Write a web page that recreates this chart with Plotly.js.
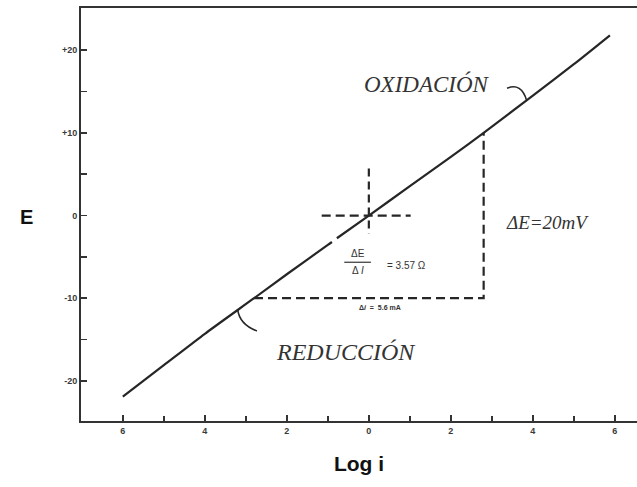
<!DOCTYPE html>
<html>
<head>
<meta charset="utf-8">
<script src="https://cdn.plot.ly/plotly-3.0.1.min.js"></script>
<style>
  html, body { margin: 0; padding: 0; background: #fff; }
  #chart { width: 637px; height: 487px; }
</style>
</head>
<body>
<div id="chart"></div>
<script>
// Polarisation curve: potential E (mV) against log i
const logI = [-6, -5, -4, -2.8, -2, -1, -0.9, null, -0.78, 0, 1, 2, 2.8, 4, 5, 5.88];
const potE = [-21.9, -18.1, -14.3, -10, -7.1, -3.55, -3.2, null, -2.75, 0, 3.55, 7.1, 10, 14.5, 18.3, 21.8];

// Construction for the slope: Δi = 5.6 mA, ΔE = 20 mV
const deltaI = 5.6;
const deltaE = 20;
const stepX = [-deltaI / 2, deltaI / 2, deltaI / 2];
const stepY = [-deltaE / 2, -deltaE / 2, deltaE / 2];

// Crosshair at the equilibrium point
const crossHX = [-1.15, 1.02];
const crossHY = [0, 0];
const crossVX = [0, 0];
const crossVY = [5.7, -2.2];

// Axis ticks
const xTickVals = [-6, -4, -2, 0, 2, 4, 6];
const xTickText = ['6', '4', '2', '0', '2', '4', '6'];
const yTickVals = [20, 10, 0, -10, -20];
const yTickText = ['+20', '+10', '0', '-10', '-20'];

const ink = '#262626';
const dashed = { color: ink, width: 2.2, dash: '9px,5px' };

const traces = [
  { x: logI, y: potE, mode: 'lines', line: { color: ink, width: 2.2, shape: 'spline', smoothing: 0.6 }, connectgaps: false, hoverinfo: 'skip' },
  { x: stepX, y: stepY, mode: 'lines', line: dashed, hoverinfo: 'skip' },
  { x: crossHX, y: crossHY, mode: 'lines', line: dashed, hoverinfo: 'skip' },
  { x: crossVX, y: crossVY, mode: 'lines', line: { color: ink, width: 2.2, dash: '8px,5px' }, hoverinfo: 'skip' }
];

const serifItalic = { family: 'Liberation Serif, Times New Roman, serif', style: 'italic', color: '#333' };
const smallSans = { family: 'Liberation Sans, Arial, sans-serif', color: '#333' };
const tickFont = { family: 'Liberation Sans, Arial, sans-serif', size: 9, color: '#3a3a3a', weight: 'bold' };

const layout = {
  width: 637,
  height: 487,
  margin: { l: 81, r: 0, t: 8, b: 66 },
  paper_bgcolor: '#fff',
  plot_bgcolor: '#fff',
  showlegend: false,
  xaxis: {
    range: [-7.02, 6.54],
    showgrid: false, zeroline: false,
    showline: true, mirror: true, linecolor: '#333', linewidth: 2,
    tickmode: 'array', tickvals: xTickVals, ticktext: xTickText,
    ticks: 'inside', ticklen: 6, tickwidth: 1.5, tickcolor: '#333',
    minor: { dtick: 1, tick0: 0, ticks: 'inside', ticklen: 5, tickwidth: 1.5, tickcolor: '#333' },
    tickfont: tickFont,
    title: { text: 'Log i', font: { family: 'Liberation Sans, Arial, sans-serif', size: 21, color: '#111', weight: 'bold' }, standoff: 22 }
  },
  yaxis: {
    range: [-24.85, 25.1],
    showgrid: false, zeroline: false,
    showline: true, mirror: false, linecolor: '#333', linewidth: 2,
    tickmode: 'array', tickvals: yTickVals, ticktext: yTickText,
    ticks: 'inside', ticklen: 6, tickwidth: 1.5, tickcolor: '#333',
    minor: { tickvals: [15, 5, -5, -15], ticks: 'inside', ticklen: 6, tickwidth: 1.5, tickcolor: '#333' },
    tickfont: tickFont
  },
  annotations: [
    { xref: 'paper', yref: 'y', x: -0.113, y: -0.2, text: 'E', showarrow: false,
      font: { family: 'Liberation Sans, Arial, sans-serif', size: 20, color: '#111', weight: 'bold' } },
    { xref: 'x', yref: 'y', x: 1.41, y: 15.9, text: 'OXIDACIÓN', showarrow: false,
      font: Object.assign({ size: 23 }, serifItalic) },
    { xref: 'x', yref: 'y', x: -0.56, y: -16.5, text: 'REDUCCIÓN', showarrow: false,
      font: Object.assign({ size: 24 }, serifItalic) },
    { xref: 'x', yref: 'y', x: 3.3, y: -0.8, xanchor: 'left', text: 'ΔE=20mV', showarrow: false,
      font: Object.assign({ size: 19 }, serifItalic) },
    { xref: 'x', yref: 'y', x: -0.27, y: -4.6, text: 'ΔE', showarrow: false,
      font: Object.assign({ size: 10 }, smallSans) },
    { xref: 'x', yref: 'y', x: -0.27, y: -6.6, text: 'Δ <i>I</i>', showarrow: false,
      font: Object.assign({ size: 10 }, smallSans) },
    { xref: 'x', yref: 'y', x: 0.4, y: -6.1, xanchor: 'left', text: '= 3.57 Ω', showarrow: false,
      font: Object.assign({ size: 10 }, smallSans) },
    { xref: 'x', yref: 'y', x: 0.27, y: -11.1, text: 'Δ<i>i</i>  =  5.6 mA', showarrow: false,
      font: Object.assign({ size: 7, weight: 'bold' }, smallSans) }
  ],
  shapes: [
    // fraction bar
    { type: 'line', xref: 'x', yref: 'y', x0: -0.6, x1: 0.05, y0: -5.65, y1: -5.65, line: { color: '#333', width: 1.2 } },
    // leader to the anodic branch
    { type: 'path', xref: 'x', yref: 'y', path: 'M3.37,15.4 Q3.72,16.1 3.85,13.9', line: { color: ink, width: 1.6 } },
    // leader to the cathodic branch
    { type: 'path', xref: 'x', yref: 'y', path: 'M-3.2,-11.35 Q-3.15,-13.2 -2.73,-13.95', line: { color: ink, width: 1.6 } }
  ]
};

Plotly.newPlot('chart', traces, layout, { staticPlot: true, displayModeBar: false });
</script>
</body>
</html>
